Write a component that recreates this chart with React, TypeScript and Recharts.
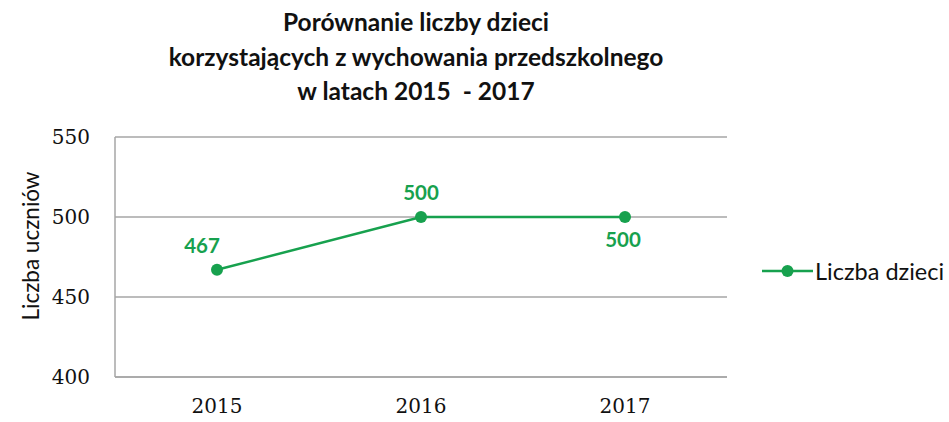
import React from "react";
import { LineChart, Line, XAxis, YAxis, CartesianGrid, LabelList } from "recharts";

const years = ["2015", "2016", "2017"];
const children = [467, 500, 500];
const yTicks = [400, 450, 500, 550];
const titleLines = [
  "Porównanie liczby dzieci",
  "korzystających z wychowania przedszkolnego",
  "w latach 2015  - 2017",
];
const seriesName = "Liczba dzieci";
const yAxisTitle = "Liczba uczniów";

const GREEN = "#17a14e";
const data = years.map((y, i) => ({ year: y, value: children[i] }));

const ValueLabel = (props: any) => {
  const { x, y, value, index } = props;
  let dx = 0;
  let dy = -25;
  if (index === 0) dx = -15;
  if (index === 2) {
    dx = -2;
    dy = 22;
  }
  return (
    <text
      x={x + dx}
      y={y + dy}
      textAnchor="middle"
      dominantBaseline="central"
      fill={GREEN}
      fontFamily="Lato, sans-serif"
      fontWeight={700}
      fontSize={20.5}
    >
      {value}
    </text>
  );
};

const YTick = (props: any) => {
  const { x, y, payload } = props;
  return (
    <text
      x={115 - 25}
      y={y}
      textAnchor="end"
      dominantBaseline="central"
      fill="#111"
      fontFamily="DejaVu Serif, serif"
      fontSize={20}
    >
      {payload.value}
    </text>
  );
};

const YTitle = (props: any) => {
  const vb = props.viewBox || {};
  const cx = 30;
  const cy = (vb.y ?? 137) + (vb.height ?? 240) / 2 - 11;
  return (
    <text
      x={cx}
      y={cy}
      transform={`rotate(-90 ${cx} ${cy})`}
      textAnchor="middle"
      dominantBaseline="central"
      fill="#111"
      fontFamily="Lato, sans-serif"
      fontSize={22.5}
    >
      {yAxisTitle}
    </text>
  );
};

export default function App() {
  return (
    <div style={{ position: "absolute", left: 0, top: 0, width: 949, height: 422, background: "#fff" }}>
      <div
        style={{
          position: "absolute",
          left: 0,
          top: 5,
          width: 832,
          textAlign: "center",
          fontFamily: "Lato, sans-serif",
          fontWeight: 700,
          fontSize: 24.5,
          lineHeight: "34.5px",
          color: "#111",
        }}
      >
        {titleLines.map((t) => (
          <div key={t} style={{ whiteSpace: "pre" }}>{t}</div>
        ))}
      </div>
      <LineChart
        width={949}
        height={422}
        data={data}
        margin={{ top: 137, right: 222, bottom: 0, left: 0 }}
      >
        <CartesianGrid vertical={false} stroke="#a6a6a6" strokeWidth={1.5} />
        <XAxis
          dataKey="year"
          height={45}
          padding={{ left: 102, right: 102 }}
          tickLine={false}
          tickSize={0}
          tickMargin={22}
          axisLine={{ stroke: "#a6a6a6", strokeWidth: 1.5 }}
          tick={{ fill: "#111", fontFamily: "DejaVu Serif, serif", fontSize: 20 }}
        />
        <YAxis
          width={115}
          domain={[400, 550]}
          ticks={yTicks}
          tickLine={false}
          axisLine={{ stroke: "#a6a6a6", strokeWidth: 1.5 }}
          tick={<YTick />}
          label={<YTitle />}
        />
        <Line
          type="linear"
          dataKey="value"
          name={seriesName}
          stroke={GREEN}
          strokeWidth={2.5}
          dot={{ r: 6, fill: GREEN, stroke: GREEN, strokeWidth: 0 }}
          isAnimationActive={false}
        >
          <LabelList dataKey="value" content={<ValueLabel />} />
        </Line>
      </LineChart>
      <div
        style={{
          position: "absolute",
          left: 762,
          top: 257,
          display: "flex",
          alignItems: "center",
          fontFamily: "Lato, sans-serif",
          fontSize: 23.5,
          color: "#111",
        }}
      >
        <svg width={51} height={20} style={{ marginRight: 2 }}>
          <line x1={0} y1={10} x2={51} y2={10} stroke={GREEN} strokeWidth={2.5} />
          <circle cx={25.5} cy={10} r={6} fill={GREEN} />
        </svg>
        <span>{seriesName}</span>
      </div>
    </div>
  );
}
